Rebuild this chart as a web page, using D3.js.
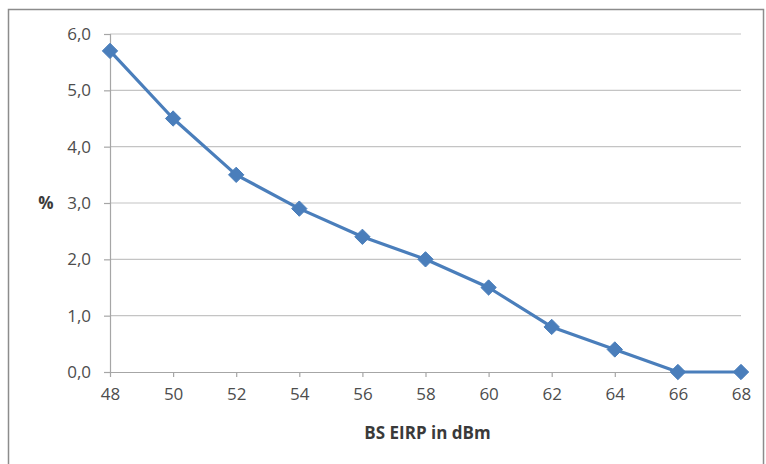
<!DOCTYPE html>
<html>
<head>
<meta charset="utf-8">
<script src="https://cdn.jsdelivr.net/npm/d3@7"></script>
<style>
  html, body { margin: 0; padding: 0; background: #fff; }
  svg text { font-family: "Open Sans", "Noto Sans", sans-serif; }
</style>
</head>
<body>
<svg id="chart" width="766" height="464"></svg>
<script>
// BS EIRP (dBm) against percentage
const eirp = [48, 50, 52, 54, 56, 58, 60, 62, 64, 66, 68];
const percent = [5.7, 4.5, 3.5, 2.9, 2.4, 2.0, 1.5, 0.8, 0.4, 0.0, 0.0];
const yTicks = [0, 1, 2, 3, 4, 5, 6];
const xTitle = "BS EIRP in dBm";
const yTitle = "%";

const svg = d3.select("#chart");
const margin = { left: 110, right: 25, top: 34, bottom: 92 };
const W = 766, H = 464;

// outer frame
svg.append("rect")
  .attr("x", 8.5).attr("y", 9.5)
  .attr("width", 755).attr("height", 470)
  .attr("fill", "#fff")
  .attr("stroke", "#8c8c8c").attr("stroke-width", 1.5);

const x = d3.scaleLinear().domain([48, 68]).range([margin.left, W - margin.right]);
const y = d3.scaleLinear().domain([0, 6]).range([H - margin.bottom, margin.top]);

// horizontal gridlines
svg.append("g")
  .selectAll("line")
  .data(yTicks.filter(d => d > 0))
  .join("line")
  .attr("x1", margin.left).attr("x2", W - margin.right)
  .attr("y1", d => y(d)).attr("y2", d => y(d))
  .attr("stroke", "#c4c4c4").attr("stroke-width", 1.2);

// y axis
const yAxis = svg.append("g")
  .attr("transform", `translate(${margin.left},0)`)
  .call(d3.axisLeft(y).tickValues(yTicks).tickSize(6).tickPadding(13)
    .tickFormat(d => d3.format(".1f")(d).replace(".", ",")));
yAxis.attr("font-size", 17).attr("font-family", null);
yAxis.select(".domain").attr("stroke", "#a6a6a6").attr("stroke-width", 1.2);
yAxis.selectAll(".tick line").attr("stroke", "#a6a6a6").attr("stroke-width", 1.2);
yAxis.selectAll(".tick text").attr("fill", "#4d4d4d");

// x axis
const xAxis = svg.append("g")
  .attr("transform", `translate(0,${y(0)})`)
  .call(d3.axisBottom(x).tickValues(eirp).tickSize(5).tickPadding(11).tickSizeOuter(0)
    .tickFormat(d3.format("d")));
xAxis.attr("font-size", 17).attr("font-family", null);
xAxis.select(".domain").attr("stroke", "#a6a6a6").attr("stroke-width", 1.2);
xAxis.selectAll(".tick line").attr("stroke", "#a6a6a6").attr("stroke-width", 1.2);
xAxis.selectAll(".tick text").attr("fill", "#4d4d4d");

// axis titles
svg.append("text")
  .attr("x", (margin.left + W - margin.right) / 2 + 2)
  .attr("y", 439)
  .attr("text-anchor", "middle")
  .attr("font-size", 17).attr("font-weight", "bold")
  .attr("fill", "#3a3a3a")
  .text(xTitle);

svg.append("text")
  .attr("x", 46).attr("y", y(3) + 6)
  .attr("text-anchor", "middle")
  .attr("font-size", 17).attr("font-weight", "bold")
  .attr("fill", "#3a3a3a")
  .text(yTitle);

// series line
const pts = eirp.map((e, i) => [e, percent[i]]);
svg.append("path")
  .datum(pts)
  .attr("fill", "none")
  .attr("stroke", "#4a7ebb")
  .attr("stroke-width", 3.2)
  .attr("stroke-linejoin", "round")
  .attr("d", d3.line().x(d => x(d[0])).y(d => y(d[1])));

// diamond markers
svg.append("g")
  .selectAll("path")
  .data(pts)
  .join("path")
  .attr("transform", d => `translate(${x(d[0])},${y(d[1])})`)
  .attr("d", d3.symbol().type(d3.symbolDiamond2).size(150))
  .attr("fill", "#4a7ebb")
  .attr("stroke", "#4a7ebb")
  .attr("stroke-width", 1);
</script>
</body>
</html>
